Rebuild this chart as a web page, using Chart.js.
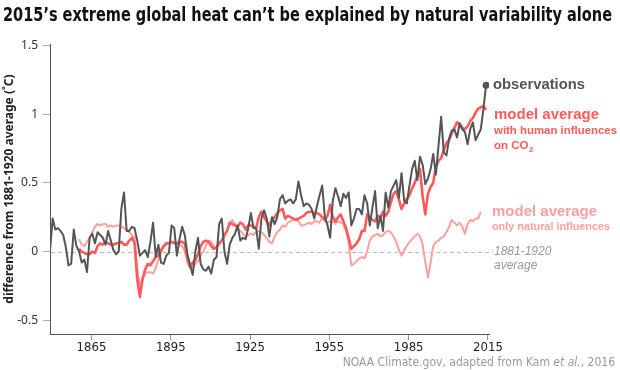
<!DOCTYPE html>
<html><head><meta charset="utf-8">
<script src="https://cdn.jsdelivr.net/npm/chart.js@4.4.1/dist/chart.umd.min.js"></script>
<style>html,body{margin:0;padding:0;background:#fff;}#wrap{width:620px;height:370px;position:relative;}</style>
</head><body><div id="wrap"><canvas id="c" width="620" height="370"></canvas></div>
<script>
// ---- data (difference from 1881-1920 average, deg C) ----
const obsStart = 1850;
const obsValues = [
 0.00, 0.24, 0.16, 0.17, 0.15, 0.12, 0.03, -0.10, -0.09, 0.16,
 0.04, 0.00, -0.08, -0.06, -0.15, 0.10, 0.13, 0.06, 0.14, 0.12,
 0.10, 0.05, 0.15, 0.08, 0.01, -0.02, 0.00, 0.31, 0.43, 0.15,
 0.15, 0.18, 0.17, 0.08, -0.03, -0.01, 0.01, -0.04, 0.07, 0.21,
 -0.04, 0.05, -0.08, -0.09, -0.03, -0.01, 0.19, 0.17, -0.03, 0.09,
 0.18, 0.12, -0.02, -0.10, -0.17, 0.00, 0.10, -0.09, -0.13, -0.14,
 -0.11, -0.16, -0.06, -0.04, 0.20, 0.24, 0.00, -0.09, 0.05, 0.10,
 0.13, 0.19, 0.08, 0.10, 0.09, 0.17, 0.28, 0.17, 0.17, 0.02,
 0.24, 0.30, 0.24, 0.11, 0.25, 0.20, 0.25, 0.38, 0.41, 0.35,
 0.37, 0.38, 0.35, 0.38, 0.51, 0.41, 0.33, 0.35, 0.34, 0.31,
 0.24, 0.33, 0.41, 0.48, 0.25, 0.19, 0.10, 0.37, 0.46, 0.40,
 0.33, 0.42, 0.39, 0.43, 0.19, 0.24, 0.31, 0.31, 0.27, 0.41,
 0.35, 0.19, 0.32, 0.44, 0.17, 0.26, 0.15, 0.43, 0.32, 0.44,
 0.48, 0.52, 0.39, 0.57, 0.37, 0.35, 0.48, 0.60, 0.66, 0.52,
 0.69, 0.63, 0.49, 0.53, 0.60, 0.71, 0.56, 0.77, 0.98, 0.72,
 0.70, 0.82, 0.88, 0.89, 0.83, 0.93, 0.89, 0.87, 0.78, 0.89,
 0.94, 0.81, 0.85, 0.89, 1.04, 1.21
];
const humanStart = 1861;
const humanValues = [
 0.02, 0.00, -0.01, -0.02, -0.02, 0.00, -0.01, 0.04, 0.06, 0.05,
 0.07, 0.06, 0.05, 0.05, 0.06, 0.06, 0.07, 0.05, 0.05, 0.08,
 0.10, 0.06, -0.20, -0.33, -0.20, -0.13, -0.09, -0.10, -0.07, -0.04,
 -0.03, 0.01, 0.04, 0.06, 0.06, 0.07, 0.06, 0.06, 0.07, 0.07,
 0.06, -0.05, -0.11, -0.08, -0.06, -0.02, 0.04, 0.07, 0.08, 0.07,
 0.04, 0.02, 0.03, 0.06, 0.08, 0.12, 0.15, 0.21, 0.20, 0.19,
 0.18, 0.21, 0.20, 0.16, 0.19, 0.19, 0.18, 0.17, 0.25, 0.29,
 0.25, 0.22, 0.19, 0.23, 0.25, 0.28, 0.30, 0.31, 0.24, 0.26,
 0.25, 0.24, 0.23, 0.24, 0.25, 0.26, 0.28, 0.29, 0.29, 0.28,
 0.28, 0.27, 0.25, 0.23, 0.26, 0.34, 0.25, 0.22, 0.25, 0.27,
 0.22, 0.17, 0.10, 0.02, 0.04, 0.06, 0.09, 0.15, 0.15, 0.27,
 0.25, 0.23, 0.22, 0.26, 0.24, 0.29, 0.26, 0.29, 0.36, 0.42,
 0.44, 0.38, 0.31, 0.35, 0.38, 0.41, 0.46, 0.50, 0.55, 0.60,
 0.40, 0.27, 0.42, 0.47, 0.50, 0.62, 0.66, 0.68, 0.74, 0.79,
 0.81, 0.86, 0.90, 0.94, 0.93, 0.90, 0.89, 0.91, 0.95, 0.97,
 1.01, 1.04, 1.05, 1.06, 1.03
];
const naturalStart = 1861;
const naturalValues = [
 0.09, 0.05, 0.04, 0.07, 0.10, 0.14, 0.18, 0.20, 0.19, 0.20,
 0.20, 0.18, 0.19, 0.18, 0.19, 0.19, 0.18, 0.17, 0.16, 0.14,
 0.12, 0.10, -0.12, -0.25, -0.20, -0.16, -0.15, -0.15, -0.16, -0.12,
 -0.06, -0.01, 0.03, 0.05, 0.06, 0.07, 0.07, 0.06, 0.05, 0.04,
 0.00, -0.08, -0.12, -0.11, -0.09, -0.07, -0.03, 0.00, 0.04, 0.08,
 0.07, 0.04, 0.03, 0.05, 0.08, 0.11, 0.15, 0.19, 0.23, 0.20,
 0.17, 0.15, 0.13, 0.11, 0.12, 0.13, 0.12, 0.14, 0.15, 0.14,
 0.12, 0.10, 0.07, 0.06, 0.11, 0.14, 0.16, 0.19, 0.18, 0.21,
 0.22, 0.23, 0.24, 0.22, 0.19, 0.19, 0.20, 0.21, 0.20, 0.22,
 0.22, 0.21, 0.25, 0.22, 0.21, 0.22, 0.22, 0.20, 0.22, 0.21,
 0.20, 0.15, 0.06, -0.10, -0.09, -0.07, -0.05, -0.04, -0.05, 0.00,
 0.08, 0.11, 0.12, 0.13, 0.11, 0.12, 0.14, 0.15, 0.14, 0.11,
 0.07, 0.01, -0.03, 0.01, 0.04, 0.07, 0.09, 0.11, 0.13, 0.11,
 0.05, -0.08, -0.19, -0.08, 0.04, 0.07, 0.08, 0.10, 0.11, 0.14,
 0.18, 0.23, 0.21, 0.19, 0.21, 0.18, 0.13, 0.20, 0.23, 0.22,
 0.24, 0.24, 0.29
];
const xTickYears = [1865, 1895, 1925, 1955, 1985, 2015];
const yTickValues = [-0.5, 0, 0.5, 1, 1.5];
const yTickLabels = ['-0.5', '0', '0.5', '1', '1.5'];

const toPoints = (start, vals) => vals.map((v, i) => ({x: start + i, y: v}));

const NARROW = "'Liberation Sans Narrow', 'DejaVu Sans Condensed', 'Liberation Sans', sans-serif";
const SANS = "'Noto Sans', 'Open Sans', sans-serif";
const LEG = "'Liberation Sans', 'DejaVu Sans', sans-serif";

const obsColor = '#555555', humanColor = '#ff5a5a', naturalColor = '#ff9f9f';
const TICK_SHIFT = 0.7;

const textPlugin = {
  id: 'texts',
  beforeDatasetsDraw(chart) {
    const {ctx, chartArea, scales: {y}} = chart;
    const py = Math.round(y.getPixelForValue(0)) + 0.5;
    ctx.save();
    ctx.strokeStyle = '#bdbdbd'; ctx.lineWidth = 1; ctx.setLineDash([4, 3]);
    ctx.beginPath(); ctx.moveTo(chartArea.left + 1, py); ctx.lineTo(chartArea.right + 4, py); ctx.stroke();
    ctx.restore();
  },
  afterDraw(chart) {
    const ctx = chart.ctx;
    ctx.save();
    ctx.textBaseline = 'alphabetic';
    ctx.textAlign = 'left';
    // title
    ctx.fillStyle = '#111';
    ctx.font = "bold 19px " + NARROW;
    ctx.fillText("2015\u2019s extreme global heat can\u2019t be explained by natural variability alone", 3, 21, 609);
    // labels next to the lines
    ctx.textBaseline = 'middle';
    ctx.fillStyle = obsColor;
    ctx.font = "bold 15px " + LEG;
    ctx.fillText('observations', 493, 85, 92);
    ctx.fillStyle = humanColor;
    ctx.font = "bold 15px " + LEG;
    ctx.fillText('model average', 494, 115, 106);
    ctx.font = "bold 11.5px " + LEG;
    ctx.fillText('with human influences', 494, 131, 123);
    ctx.fillText('on CO', 494, 146);
    const w = ctx.measureText('on CO').width;
    ctx.font = "bold 8px " + LEG;
    ctx.fillText('2', 494 + w + 0.5, 150);
    ctx.fillStyle = naturalColor;
    ctx.font = "bold 15px " + LEG;
    ctx.fillText('model average', 492, 212, 106);
    ctx.font = "bold 11.5px " + LEG;
    ctx.fillText('only natural influences', 492, 227, 118);
    ctx.fillStyle = '#999';
    ctx.font = "italic 12px " + LEG;
    ctx.fillText('1881-1920', 494, 252);
    ctx.fillText('average', 494, 266);
    // source
    ctx.textAlign = 'right';
    ctx.fillStyle = '#9a9a9a';
    let x = 615;
    const parts = [[', 2016', "12px " + NARROW], ['et al.', "italic 12px " + NARROW], ['NOAA Climate.gov, adapted from Kam ', "12px " + NARROW]];
    for (const [t, f] of parts) {
      ctx.font = f;
      ctx.fillText(t, x, 363);
      x -= ctx.measureText(t).width;
    }
    ctx.restore();
  }
};

new Chart(document.getElementById('c'), {
  type: 'line',
  data: {
    datasets: [
      {
        label: 'observations',
        data: toPoints(obsStart, obsValues),
        borderColor: obsColor, backgroundColor: obsColor, borderWidth: 2,
        pointRadius: obsValues.map((v, i) => i === obsValues.length - 1 ? 3.5 : 0),
        pointBackgroundColor: obsColor, pointBorderWidth: 0,
        tension: 0, borderJoinStyle: 'round'
      },
      {
        label: 'model average with human influences on CO2',
        data: toPoints(humanStart, humanValues),
        borderColor: humanColor, borderWidth: 2.6, pointRadius: 0,
        tension: 0, borderJoinStyle: 'round'
      },
      {
        label: 'model average only natural influences',
        data: toPoints(naturalStart, naturalValues),
        borderColor: naturalColor, borderWidth: 2, pointRadius: 0,
        tension: 0, borderJoinStyle: 'round'
      }
    ]
  },
  options: {
    responsive: false, animation: false, devicePixelRatio: 1,
    layout: {padding: {left: 0, top: 44, right: 131, bottom: 0}},
    plugins: {legend: {display: false}, tooltip: {enabled: false}, title: {display: false}},
    scales: {
      x: {
        type: 'linear', min: 1850, max: 2016.1,
        afterFit(s) { s.height = 36; },
        afterBuildTicks(s) { s.ticks = xTickYears.map(v => ({value: v + TICK_SHIFT})); },
        ticks: {
          callback: (v) => String(Math.round(v - TICK_SHIFT)),
          color: '#222', font: {family: NARROW, size: 13}, padding: 0, maxRotation: 0, autoSkip: false
        },
        grid: {drawOnChartArea: false, drawTicks: true, tickLength: 6, tickColor: '#999'},
        border: {display: true, color: '#555', width: 1}
      },
      y: {
        type: 'linear', min: -0.6, max: 1.51,
        afterFit(s) { s.width = 50; },
        afterBuildTicks(s) { s.ticks = yTickValues.map(v => ({value: v})); },
        ticks: {
          callback: (v) => yTickLabels[yTickValues.indexOf(v)],
          color: '#333', font: {family: SANS, size: 12}, padding: 5
        },
        grid: {drawOnChartArea: false, drawTicks: true, tickLength: 7, tickColor: '#aaa'},
        border: {display: true, color: '#555', width: 1},
        title: {
          display: true, text: 'difference from 1881-1920 average (\u02daC)',
          color: '#222', font: {family: SANS, size: 12, weight: 'bold'}, padding: {top: 2, bottom: 0}
        }
      }
    }
  },
  plugins: [textPlugin]
});
</script>
</body></html>
